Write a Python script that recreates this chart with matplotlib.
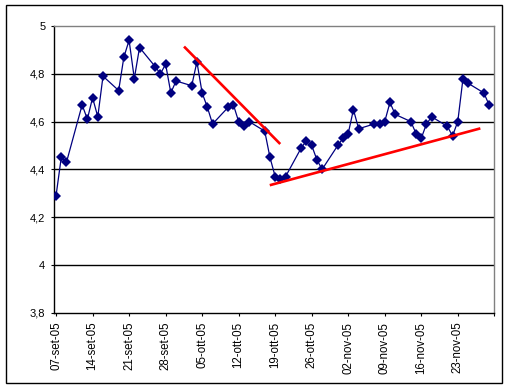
import matplotlib
matplotlib.use("Agg")
import matplotlib.pyplot as plt
import matplotlib.patches as patches
import pandas as pd

# quotazioni giornaliere (set-nov 2005)
dates = [
    "2005-09-07", "2005-09-08", "2005-09-09", "2005-09-12", "2005-09-13",
    "2005-09-14", "2005-09-15", "2005-09-16", "2005-09-19", "2005-09-20",
    "2005-09-21", "2005-09-22", "2005-09-23", "2005-09-26", "2005-09-27",
    "2005-09-28", "2005-09-29", "2005-09-30", "2005-10-03", "2005-10-04",
    "2005-10-05", "2005-10-06", "2005-10-07", "2005-10-10", "2005-10-11",
    "2005-10-12", "2005-10-13", "2005-10-14", "2005-10-17", "2005-10-18",
    "2005-10-19", "2005-10-20", "2005-10-21", "2005-10-24", "2005-10-25",
    "2005-10-26", "2005-10-27", "2005-10-28", "2005-10-31", "2005-11-01",
    "2005-11-02", "2005-11-03", "2005-11-04", "2005-11-07", "2005-11-08",
    "2005-11-09", "2005-11-10", "2005-11-11", "2005-11-14", "2005-11-15",
    "2005-11-16", "2005-11-17", "2005-11-18", "2005-11-21", "2005-11-22",
    "2005-11-23", "2005-11-24", "2005-11-25", "2005-11-28", "2005-11-29",
]
values = [
    4.29, 4.45, 4.43, 4.67, 4.61,
    4.70, 4.62, 4.79, 4.73, 4.87,
    4.94, 4.78, 4.91, 4.83, 4.80,
    4.84, 4.72, 4.77, 4.75, 4.85,
    4.72, 4.66, 4.59, 4.66, 4.67,
    4.60, 4.58, 4.60, 4.56, 4.45,
    4.37, 4.36, 4.37, 4.49, 4.52,
    4.50, 4.44, 4.40, 4.50, 4.53,
    4.55, 4.65, 4.57, 4.59, 4.59,
    4.60, 4.68, 4.63, 4.60, 4.55,
    4.53, 4.59, 4.62, 4.58, 4.54,
    4.60, 4.78, 4.76, 4.72, 4.67,
]

# linee di tendenza disegnate a mano
down_dates = ["2005-10-01 17:00", "2005-10-19 19:00"]
down_values = [4.91, 4.51]
up_dates = ["2005-10-18 05:00", "2005-11-27 02:00"]
up_values = [4.335, 4.57]

tick_dates = pd.date_range("2005-09-07", "2005-11-30", freq="7D")
tick_labels = ["07-set-05", "14-set-05", "21-set-05", "28-set-05", "05-ott-05",
               "12-ott-05", "19-ott-05", "26-ott-05", "02-nov-05", "09-nov-05",
               "16-nov-05", "23-nov-05", ""]
y_ticks = [3.8, 4.0, 4.2, 4.4, 4.6, 4.8, 5.0]
y_labels = ["3,8", "4", "4,2", "4,4", "4,6", "4,8", "5"]

x = pd.to_datetime(dates)

fig = plt.figure(figsize=(5.1, 3.91), dpi=100)
ax = fig.add_axes([0.1065, 0.2003, 0.8627, 0.7332])

for yv in y_ticks[1:-1]:
    ax.axhline(yv, color="black", linewidth=1, zorder=1)

ax.plot(x, values, color="#000080", linewidth=0.9, marker="D",
        markersize=4.8, markeredgewidth=0, zorder=3)
ax.plot(pd.to_datetime(down_dates), down_values, color="red", linewidth=1.9, zorder=4)
ax.plot(pd.to_datetime(up_dates), up_values, color="red", linewidth=1.9, zorder=4)

ax.set_ylim(3.8, 5.0)
ax.set_xlim(pd.Timestamp("2005-09-07") - pd.Timedelta(hours=8), pd.Timestamp("2005-11-30"))

ax.set_yticks(y_ticks)
ax.set_yticklabels(y_labels, fontsize=8, family=["Liberation Sans", "DejaVu Sans"])
ax.set_xticks(tick_dates)
ax.set_xticklabels(tick_labels, rotation=90, fontsize=8.3,
                   family=["Liberation Sans Narrow", "Liberation Sans", "DejaVu Sans"])
ax.tick_params(axis="both", direction="out", length=2.5, width=0.8, color="black")
ax.tick_params(axis="y", pad=4)
ax.tick_params(axis="x", pad=4)

for side in ["left", "bottom"]:
    ax.spines[side].set_color("black")
    ax.spines[side].set_linewidth(1)
for side in ["top", "right"]:
    ax.spines[side].set_color("#808080")
    ax.spines[side].set_linewidth(1)

# cornice esterna del grafico
fig.patches.append(patches.Rectangle((6 / 510, 1 - 383 / 391), 496 / 510, 378 / 391,
                                     transform=fig.transFigure, fill=False,
                                     edgecolor="black", linewidth=1))

fig.savefig("out.png", dpi=100)
plt.close(fig)
